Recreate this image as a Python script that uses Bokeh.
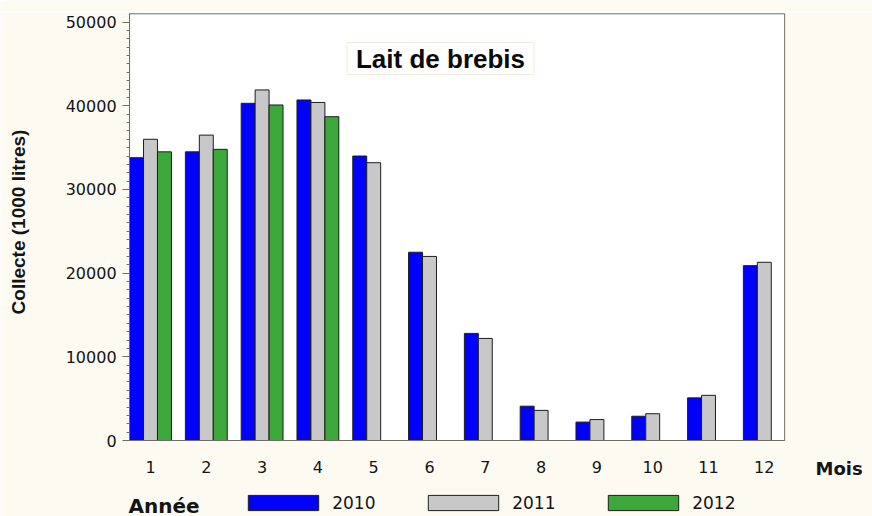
import math
from bokeh.plotting import figure
from bokeh.models import (Range1d, Label, Legend, LegendItem, FixedTicker,
                          ColumnDataSource, BoxAnnotation, Span)
from bokeh.transform import dodge
from bokeh.embed import file_html
from bokeh.resources import INLINE

# ---- data ----
months = [1, 2, 3, 4, 5, 6, 7, 8, 9, 10, 11, 12]
v2010 = [33800, 34500, 40300, 40700, 34000, 22500, 12800, 4100, 2200, 2900, 5100, 20900]
v2011 = [36000, 36500, 41900, 40400, 33200, 22000, 12200, 3600, 2500, 3200, 5400, 21300]
months_2012 = [1, 2, 3, 4]
v2012 = [34500, 34800, 40100, 38700]
year_labels = ["2010", "2011", "2012"]
y_ticks = [0, 10000, 20000, 30000, 40000, 50000]
colors = ["#0000ff", "#c8c8c8", "#3ca83c"]

# ---- layout constants ----
W, H = 872, 516
PX_MONTH = 55.8          # pixels per month
PX_10K = 83.67           # pixels per 10000
X0_PAGE, Y0_PAGE = 150, 440   # page position of month 1 / value 0
X_LO, X_HI = 0.625, 12.365    # plot-area x bounds (data)
Y_HI = 51000                  # plot-area top (data)

x_start = 1 - X0_PAGE / PX_MONTH
y_start = -(H - Y0_PAGE) / PX_10K * 10000
x_range = Range1d(x_start, x_start + W / PX_MONTH)
y_range = Range1d(y_start, y_start + H / PX_10K * 10000)

FONT_T = "Liberation Sans"
FONT_N = "DejaVu Sans"
CREAM = "#fdfaf2"
AXIS = "#6e6e66"
TXT = "#141414"

src_a = ColumnDataSource(dict(m=months, v2010=v2010, v2011=v2011))
src_b = ColumnDataSource(dict(m=months_2012, v2012=v2012))

p = figure(width=W, height=H, output_backend="svg", toolbar_location=None, title=None,
           x_range=x_range, y_range=y_range, min_border=0)
p.background_fill_color = CREAM
p.border_fill_color = CREAM
p.outline_line_color = None
p.xgrid.visible = False
p.ygrid.visible = False

# white plot area with grey frame
p.add_layout(BoxAnnotation(left=X_LO, right=X_HI, bottom=0, top=Y_HI, level="underlay",
                           fill_color="white", fill_alpha=1.0,
                           line_color=AXIS, line_alpha=1.0, line_width=1))
# thin white line near the top of the picture
p.add_layout(Span(location=H - 11.5, location_units="screen", dimension="width",
                  line_color="white", line_width=2))

w = 0.25
r0 = p.vbar(x=dodge("m", -0.25, range=p.x_range), top="v2010", width=w, source=src_a,
            fill_color=colors[0], line_color="#1e1e1e", line_width=1)
r1 = p.vbar(x=dodge("m", 0.0, range=p.x_range), top="v2011", width=w, source=src_a,
            fill_color=colors[1], line_color="#1e1e1e", line_width=1)
r2 = p.vbar(x=dodge("m", 0.25, range=p.x_range), top="v2012", width=w, source=src_b,
            fill_color=colors[2], line_color="#1e1e1e", line_width=1)

# y axis (fixed at the left edge of the plot area)
ya = p.yaxis[0]
ya.fixed_location = X_LO
ya.bounds = (0, Y_HI)
ya.ticker = FixedTicker(ticks=y_ticks, minor_ticks=list(range(0, 51000, 1000)))
ya.major_tick_out = 7
ya.major_tick_in = 0
ya.minor_tick_out = 3
ya.minor_tick_in = 0
ya.major_tick_line_color = AXIS
ya.minor_tick_line_color = AXIS
ya.axis_line_color = AXIS
ya.major_label_standoff = 6
ya.major_label_text_font = FONT_N
ya.major_label_text_font_size = "16px"
ya.major_label_text_color = TXT

# x axis (fixed at value 0)
xa = p.xaxis[0]
xa.fixed_location = 0
xa.bounds = (X_LO, X_HI)
xa.ticker = FixedTicker(ticks=months)
xa.major_tick_out = 0
xa.major_tick_in = 0
xa.minor_tick_out = 0
xa.minor_tick_in = 0
xa.axis_line_color = AXIS
xa.major_label_standoff = 20
xa.major_label_text_font = FONT_N
xa.major_label_text_font_size = "16px"
xa.major_label_text_color = TXT

# texts (screen units, origin at the bottom-left of the canvas)
p.add_layout(Label(x=18, y=H - 221.5, x_units="screen", y_units="screen", angle=math.pi / 2,
                   text="Collecte (1000 litres)", text_align="center", text_baseline="middle",
                   text_font=FONT_T, text_font_style="bold", text_font_size="19px",
                   text_color=TXT))
p.add_layout(Label(x=440, y=H - 58, x_units="screen", y_units="screen",
                   text="Lait de brebis", text_align="center", text_baseline="middle",
                   text_font=FONT_T, text_font_style="bold", text_font_size="26px",
                   text_color="#0a0a0a", background_fill_color="white",
                   border_line_color="#f1ece0", border_line_width=1,
                   padding=dict(left=9, right=9, top=1, bottom=1)))
p.add_layout(Label(x=815, y=H - 468, x_units="screen", y_units="screen",
                   text="Mois", text_align="left", text_baseline="middle",
                   text_font=FONT_N, text_font_style="bold", text_font_size="18px",
                   text_color=TXT))
p.add_layout(Label(x=128, y=H - 505, x_units="screen", y_units="screen",
                   text="Année", text_align="left", text_baseline="middle",
                   text_font=FONT_N, text_font_style="bold", text_font_size="20px",
                   text_color=TXT))

legend = Legend(items=[LegendItem(label=year_labels[0], renderers=[r0]),
                       LegendItem(label=year_labels[1], renderers=[r1]),
                       LegendItem(label=year_labels[2], renderers=[r2])],
                orientation="horizontal", location=(239.2, 3.5),
                glyph_width=88, glyph_height=19, label_height=19, label_width=44,
                label_standoff=5, spacing=43, padding=0, margin=0,
                border_line_alpha=0, background_fill_alpha=0,
                label_text_font=FONT_N, label_text_font_size="17px", label_text_color=TXT)
p.add_layout(legend)

open("out.html", "w").write(file_html(p, INLINE))
